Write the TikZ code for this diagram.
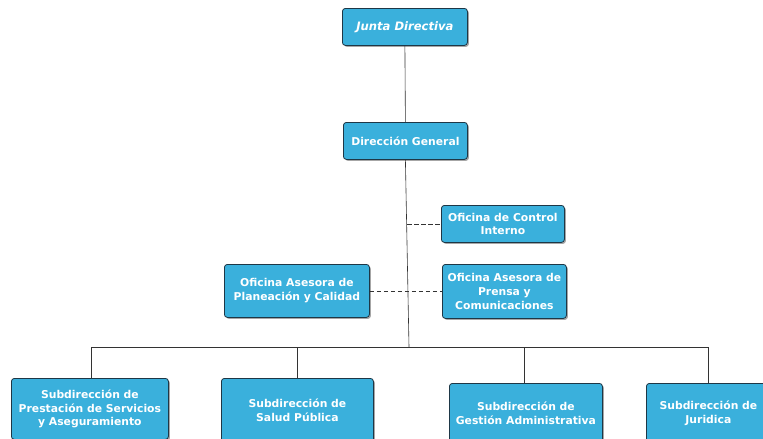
\documentclass[tikz,border=0pt]{standalone}
\usepackage{fontspec}
\setmainfont{DejaVu Sans}
\usetikzlibrary{shadows}
\definecolor{boxblue}{RGB}{58,176,220}
\definecolor{boxedge}{RGB}{30,55,70}
\begin{document}
\begin{tikzpicture}[x=1pt,y=-1pt,
  org/.style={draw=boxedge, line width=0.8pt, fill=boxblue, rounded corners=3pt,
    text=white, font=\fontsize{10.8}{13.8}\selectfont\bfseries, align=center,
    inner sep=2pt, anchor=north west,
    drop shadow={shadow xshift=1.5pt, shadow yshift=-1.5pt, opacity=0.35, fill=black}},
  link/.style={draw=black!80, line width=0.6pt},
  dlink/.style={link, dashed, dash pattern=on 4.5pt off 2.5pt}]
\useasboundingbox (0,0) rectangle (763,439);
\clip (0,0) rectangle (763,439);
\fill[white] (0,0) rectangle (763,439);

\node[org, minimum width=125pt, minimum height=37pt, font=\fontsize{11.6}{13.8}\selectfont\bfseries\itshape] (jd) at (342,8) {Junta Directiva};
\node[org, minimum width=124pt, minimum height=37pt] (dg) at (343,122) {Dirección General};
\node[org, minimum width=123pt, minimum height=37pt] (oci) at (441,205) {Oficina de Control\\Interno};
\node[org, minimum width=124pt, minimum height=54pt] (opc) at (442,264) {Oficina Asesora de\\Prensa y\\Comunicaciones};
\node[org, minimum width=145pt, minimum height=53pt] (opl) at (224,264) {Oficina Asesora de\\Planeación y Calidad};

\node[org, minimum width=157pt, minimum height=61pt] (s1) at (11,378) {Subdirección de\\Prestación de Servicios\\y Aseguramiento};
\node[org, minimum width=152pt, minimum height=64pt] (s2) at (221,378) {Subdirección de\\Salud Pública};
\node[org, minimum width=153pt, minimum height=59pt] (s3) at (449,383) {Subdirección de\\Gestión Administrativa};
\node[org, minimum width=124pt, minimum height=59pt] (s4) at (646,383) {Subdirección de\\Juridica};

\coordinate (bus) at (409,347);
\coordinate (bl) at (91,347);
\coordinate (br) at (708,347);
\coordinate (tap1) at (407,224);
\coordinate (tap2) at (408,291);

\draw[link] (jd.south) -- (dg.north);
\draw[link] (dg.south) -- (bus);
\draw[link] (bl) -- (br);
\draw[link] (bl) -- (bl |- s1.north);
\draw[link] (297,347) -- (297,378);
\draw[link] (524,347) -- (524,383);
\draw[link] (br) -- (708,383);
\draw[dlink] (tap1) -- (oci.west |- tap1);
\draw[dlink] (opl.east |- tap2) -- (opc.west |- tap2);
\end{tikzpicture}
\end{document}
